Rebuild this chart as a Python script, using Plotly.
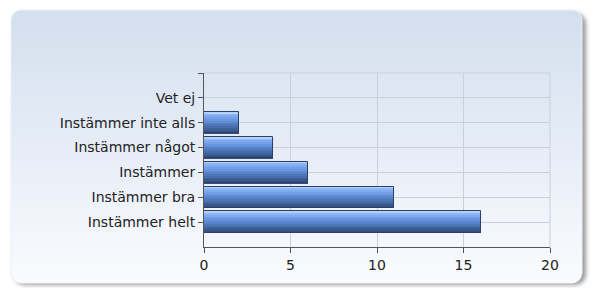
import base64
import plotly.graph_objects as go

categories = ["Instämmer helt", "Instämmer bra", "Instämmer", "Instämmer något", "Instämmer inte alls", "Vet ej"]
values = [16, 11, 6, 4, 2, 0]
x_ticks = [0, 5, 10, 15, 20]

# page body has an 8px margin; figure sized to fit the 599x288 window
W, H = 591, 280
L, R, T, B = 196, 49, 65, 41
pw, ph = W - L - R, H - T - B

ypos = list(range(len(categories)))

svg = f'''<svg xmlns="http://www.w3.org/2000/svg" width="{W}" height="{H}" viewBox="0 0 {W} {H}" preserveAspectRatio="none">
<defs>
<linearGradient id="g" x1="0" y1="0" x2="0" y2="1">
<stop offset="0" stop-color="#d3dfee"/><stop offset="0.55" stop-color="#e8eef7"/><stop offset="1" stop-color="#fafbfe"/>
</linearGradient>
<filter id="s" x="-10%" y="-10%" width="120%" height="120%"><feGaussianBlur stdDeviation="2"/></filter>
</defs>
<rect x="6" y="5" width="572" height="272" rx="11" fill="#9a9a9a" filter="url(#s)"/>
<rect x="3" y="2" width="571" height="273" rx="10" fill="url(#g)" stroke="#eef2f8" stroke-width="1"/>
</svg>'''
uri = "data:image/svg+xml;base64," + base64.b64encode(svg.encode()).decode()

fig = go.Figure()

band_colors = ["#b4d0fa", "#8eb6f3", "#7eaaee", "#729fe8", "#6897e0", "#5f8cd5",
               "#5782c8", "#4e77ba", "#466cab", "#3f629b", "#38588c", "#314e7e"]
w = 0.86
n = len(band_colors)
for i, c in enumerate(band_colors):
    fig.add_trace(go.Bar(
        y=ypos, x=values, orientation="h",
        width=w / n + 0.004, offset=w / 2 - (i + 1) * w / n,
        marker=dict(color=c, line=dict(width=0)),
        hoverinfo="skip", showlegend=False,
    ))
fig.add_trace(go.Bar(
    y=ypos, x=values, orientation="h", width=w, offset=-w / 2,
    marker=dict(color="rgba(0,0,0,0)", line=dict(color="#2a4068", width=1)),
    showlegend=False,
))

fig.add_layout_image(dict(
    source=uri, xref="paper", yref="paper",
    x=-L / pw, y=(ph + T) / ph, sizex=W / pw, sizey=H / ph,
    xanchor="left", yanchor="top", sizing="stretch", layer="below",
))

font = dict(family="DejaVu Sans, Verdana, sans-serif", size=14, color="#222222")

fig.update_layout(
    width=W, height=H,
    margin=dict(l=L, r=R, t=T, b=B, pad=0),
    paper_bgcolor="white", plot_bgcolor="rgba(0,0,0,0)",
    barmode="overlay", bargap=0,
    font=font,
    xaxis=dict(
        range=[0, 20], tickvals=x_ticks, ticktext=[str(v) for v in x_ticks],
        showgrid=True, gridcolor="#c9d0da", gridwidth=1,
        showline=True, linecolor="#555555", linewidth=1,
        ticks="outside", ticklen=5, tickcolor="#555555",
        zeroline=False, tickfont=font, fixedrange=True,
    ),
    yaxis=dict(
        range=[-1, len(categories)],
        tickvals=ypos + [len(categories)], ticktext=categories + [""],
        showgrid=True, gridcolor="#c9d0da", gridwidth=1,
        showline=True, linecolor="#555555", linewidth=1,
        ticks="outside", ticklen=5, tickcolor="#555555",
        zeroline=False, tickfont=font, fixedrange=True,
    ),
    shapes=[dict(type="line", xref="paper", yref="paper", x0=0, x1=1, y0=1, y1=1,
                 line=dict(color="#c9d0da", width=1), layer="below"),
            dict(type="line", xref="paper", yref="paper", x0=1, x1=1, y0=0, y1=1,
                 line=dict(color="#c9d0da", width=1), layer="below")],
)

fig.write_html("out.html")
